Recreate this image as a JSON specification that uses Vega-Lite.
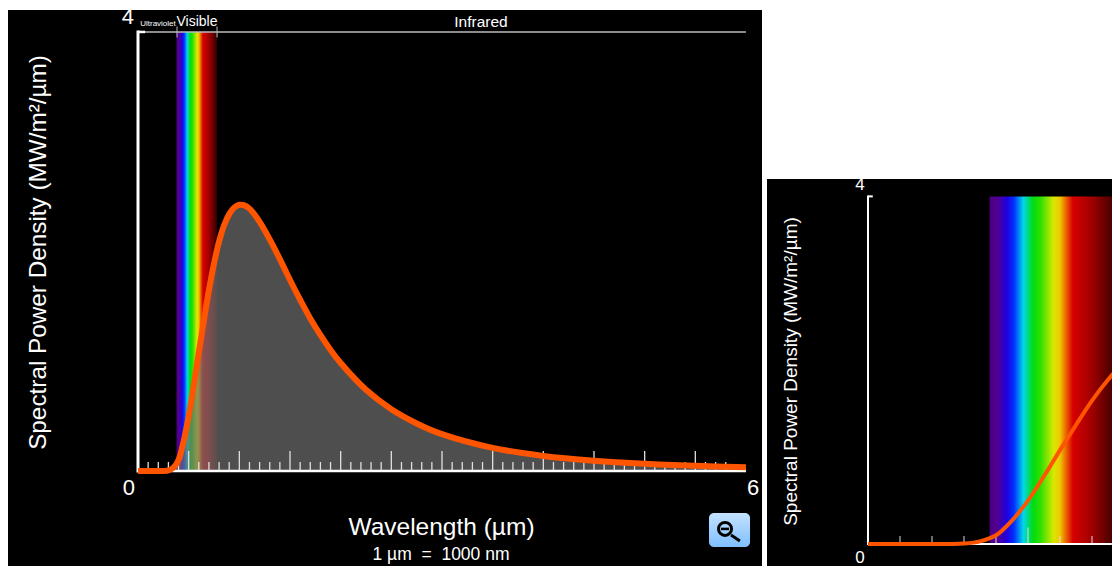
{
"$schema":"https://vega.github.io/schema/vega-lite/v6.json",
"background":"white",
"padding":{"left":8,"top":5,"right":0,"bottom":0},
"bounds":"flush",
"spacing":5,
"config":{"font":"Liberation Sans","view":{"stroke":null},"text":{"font":"Liberation Sans","color":"white"},"axis":{"titleFont":"Liberation Sans","titleColor":"white","titleFontWeight":"normal","grid":false}},
"datasets":{
"curve":[{"x":0,"y":0},{"x":0.25,"y":0},{"x":0.3,"y":0.005},{"x":0.35,"y":0.03},{"x":0.4,"y":0.1},{"x":0.45,"y":0.27},{"x":0.5,"y":0.5},{"x":0.55,"y":0.78},{"x":0.6,"y":1.08},{"x":0.65,"y":1.37},{"x":0.7,"y":1.65},{"x":0.75,"y":1.89},{"x":0.8,"y":2.09},{"x":0.85,"y":2.24},{"x":0.9,"y":2.34},{"x":0.95,"y":2.4},{"x":1.0,"y":2.425},{"x":1.05,"y":2.42},{"x":1.1,"y":2.39},{"x":1.2,"y":2.27},{"x":1.3,"y":2.11},{"x":1.4,"y":1.93},{"x":1.5,"y":1.74},{"x":1.6,"y":1.56},{"x":1.7,"y":1.39},{"x":1.8,"y":1.24},{"x":1.9,"y":1.103},{"x":2.0,"y":0.983},{"x":2.25,"y":0.739},{"x":2.5,"y":0.562},{"x":2.75,"y":0.433},{"x":3,"y":0.335},{"x":3.5,"y":0.21},{"x":4,"y":0.137},{"x":4.5,"y":0.093},{"x":5,"y":0.065},{"x":5.5,"y":0.047},{"x":6,"y":0.034}],
"spectrum":[{"x":0.38,"x2":0.78,"y":0,"y2":4}],
"minorL":[{"x":0.1,"y":0},{"x":0.2,"y":0},{"x":0.3,"y":0},{"x":0.4,"y":0},{"x":0.6,"y":0},{"x":0.7,"y":0},{"x":0.8,"y":0},{"x":0.9,"y":0},{"x":1.1,"y":0},{"x":1.2,"y":0},{"x":1.3,"y":0},{"x":1.4,"y":0},{"x":1.6,"y":0},{"x":1.7,"y":0},{"x":1.8,"y":0},{"x":1.9,"y":0},{"x":2.1,"y":0},{"x":2.2,"y":0},{"x":2.3,"y":0},{"x":2.4,"y":0},{"x":2.6,"y":0},{"x":2.7,"y":0},{"x":2.8,"y":0},{"x":2.9,"y":0},{"x":3.1,"y":0},{"x":3.2,"y":0},{"x":3.3,"y":0},{"x":3.4,"y":0},{"x":3.6,"y":0},{"x":3.7,"y":0},{"x":3.8,"y":0},{"x":3.9,"y":0},{"x":4.1,"y":0},{"x":4.2,"y":0},{"x":4.3,"y":0},{"x":4.4,"y":0},{"x":4.6,"y":0},{"x":4.7,"y":0},{"x":4.8,"y":0},{"x":4.9,"y":0},{"x":5.1,"y":0},{"x":5.2,"y":0},{"x":5.3,"y":0},{"x":5.4,"y":0},{"x":5.6,"y":0},{"x":5.7,"y":0},{"x":5.8,"y":0}],
"majorL":[{"x":0.5,"y":0},{"x":1,"y":0},{"x":1.5,"y":0},{"x":2,"y":0},{"x":2.5,"y":0},{"x":3,"y":0},{"x":3.5,"y":0},{"x":4,"y":0},{"x":4.5,"y":0},{"x":5,"y":0},{"x":5.5,"y":0}],
"minorR":[{"x":0.1,"y":0},{"x":0.2,"y":0},{"x":0.3,"y":0},{"x":0.4,"y":0},{"x":0.6,"y":0},{"x":0.7,"y":0}],
"majorR":[{"x":0.5,"y":0}]
},
"hconcat":[
{"width":754,"height":556,"view":{"fill":"black","stroke":null},
"encoding":{
"x":{"field":"x","type":"quantitative","scale":{"domain":[-1.283,6.158],"nice":false,"zero":false},"axis":{"values":[],"domain":false,"ticks":false,"labels":false,"title":"Wavelength (µm)","titleFontSize":24.5,"titleX":433,"titleY":-39,"titleBaseline":"middle","titleAlign":"center"}},
"y":{"field":"y","type":"quantitative","scale":{"domain":[-0.866,4.2],"nice":false,"zero":false},"axis":{"values":[],"domain":false,"ticks":false,"labels":false,"title":"Spectral Power Density (MW/m²/µm)","titleFontSize":24.3,"titleX":30,"titleY":242,"titleBaseline":"middle","titleAlign":"center"}}
},
"layer":[
{"data":{"name":"spectrum"},"mark":{"type":"rect","fill":{"gradient":"linear","x1":0,"x2":1,"y1":0,"y2":0,"stops":[{"offset":0,"color":"#4b0082"},{"offset":0.06,"color":"#520090"},{"offset":0.135,"color":"#2000e0"},{"offset":0.19,"color":"#0030ff"},{"offset":0.265,"color":"#00d8e8"},{"offset":0.34,"color":"#00dc10"},{"offset":0.4,"color":"#30e000"},{"offset":0.5,"color":"#d8e800"},{"offset":0.55,"color":"#f0c800"},{"offset":0.6,"color":"#e86000"},{"offset":0.65,"color":"#d80000"},{"offset":0.8,"color":"#a00000"},{"offset":1,"color":"#300000"}]}},"encoding":{"x2":{"field":"x2"},"y2":{"field":"y2"}}},
{"data":{"name":"curve"},"mark":{"type":"area","fill":"#6f6f6f","opacity":0.7,"interpolate":"catmull-rom"}},
{"data":{"name":"minorL"},"mark":{"type":"rule","color":"#e0e0e0","strokeWidth":1.3},"encoding":{"y2":{"datum":0.082}}},
{"data":{"name":"majorL"},"mark":{"type":"rule","color":"#e0e0e0","strokeWidth":1.3},"encoding":{"y2":{"datum":0.182}}},
{"data":{"values":[{"x":0,"x2":6,"y":4}]},"mark":{"type":"rule","color":"#bbbbbb","strokeWidth":1.5},"encoding":{"x2":{"field":"x2"}}},
{"data":{"values":[{"x":0.385,"y":3.95,"y2":4.05},{"x":0.78,"y":3.95,"y2":4.05}]},"mark":{"type":"rule","color":"#bbbbbb","strokeWidth":1},"encoding":{"y2":{"field":"y2"}}},
{"data":{"values":[{"x":0,"y":0,"y2":4}]},"mark":{"type":"rule","color":"white","strokeWidth":3,"strokeCap":"square"},"encoding":{"y2":{"field":"y2"}}},
{"data":{"values":[{"x":0,"x2":6,"y":0},{"x":0,"x2":0.07,"y":4}]},"mark":{"type":"rule","color":"white","strokeWidth":2.5},"encoding":{"x2":{"field":"x2"}}},
{"data":{"name":"curve"},"mark":{"type":"line","color":"#ff5500","strokeWidth":6,"interpolate":"catmull-rom"}},
{"data":{"values":[{"x":-0.099,"y":4.137,"label":"4"},{"x":-0.089,"y":-0.155,"label":"0"},{"x":6.07,"y":-0.155,"label":"6"}]},"mark":{"type":"text","fontSize":22,"align":"center","baseline":"middle"},"encoding":{"text":{"field":"label"}}},
{"data":{"values":[{"x":0.197,"y":4.073,"label":"Ultraviolet"}]},"mark":{"type":"text","fontSize":8,"align":"center","baseline":"middle"},"encoding":{"text":{"field":"label"}}},
{"data":{"values":[{"x":0.582,"y":4.09,"label":"Visible"}]},"mark":{"type":"text","fontSize":14,"align":"center","baseline":"middle"},"encoding":{"text":{"field":"label"}}},
{"data":{"values":[{"x":3.385,"y":4.09,"label":"Infrared"}]},"mark":{"type":"text","fontSize":15.5,"align":"center","baseline":"middle"},"encoding":{"text":{"field":"label"}}},
{"data":{"values":[{"x":2.99,"y":-0.765,"label":"1 µm\u00a0\u00a0=\u00a0\u00a01000 nm"}]},"mark":{"type":"text","fontSize":17.5,"align":"center","baseline":"middle"},"encoding":{"text":{"field":"label"}}},
{"data":{"values":[{"x":5.635,"x2":6.04,"y":-0.383,"y2":-0.692}]},"mark":{"type":"rect","cornerRadius":5,"fill":{"gradient":"linear","x1":0,"x2":0,"y1":0,"y2":1,"stops":[{"offset":0,"color":"#c4e2ff"},{"offset":1,"color":"#7fbfff"}]}},"encoding":{"x2":{"field":"x2"},"y2":{"field":"y2"}}},
{"data":{"values":[{"x":5.793,"y":-0.528}]},"mark":{"type":"point","shape":"circle","size":169,"filled":false,"color":"black","opacity":1,"strokeWidth":3}},
{"data":{"values":[{"x":5.852,"x2":5.94,"y":-0.583,"y2":-0.638}]},"mark":{"type":"rule","color":"black","strokeWidth":3},"encoding":{"x2":{"field":"x2"},"y2":{"field":"y2"}}},
{"data":{"values":[{"x":5.753,"x2":5.832,"y":-0.528}]},"mark":{"type":"rule","color":"black","strokeWidth":2.5},"encoding":{"x2":{"field":"x2"}}}
]},
{"spacing":0,"bounds":"flush","vconcat":[
{"width":345,"height":169,"data":{"values":[]},"mark":"point"},
{"width":345,"height":387,"view":{"fill":"black","stroke":null},
"encoding":{
"x":{"field":"x","type":"quantitative","scale":{"domain":[-0.3156,0.7625],"nice":false,"zero":false},"axis":null},
"y":{"field":"y","type":"quantitative","scale":{"domain":[-0.253,4.2],"nice":false,"zero":false},"axis":{"values":[],"domain":false,"ticks":false,"labels":false,"title":"Spectral Power Density (MW/m²/µm)","titleFontSize":19,"titleX":23,"titleY":192,"titleBaseline":"middle","titleAlign":"center"}}
},
"layer":[
{"data":{"name":"spectrum"},"mark":{"type":"rect","clip":true,"fill":{"gradient":"linear","x1":0,"x2":1,"y1":0,"y2":0,"stops":[{"offset":0,"color":"#4b0082"},{"offset":0.06,"color":"#520090"},{"offset":0.135,"color":"#2000e0"},{"offset":0.19,"color":"#0030ff"},{"offset":0.265,"color":"#00d8e8"},{"offset":0.34,"color":"#00dc10"},{"offset":0.4,"color":"#30e000"},{"offset":0.5,"color":"#d8e800"},{"offset":0.55,"color":"#f0c800"},{"offset":0.6,"color":"#e86000"},{"offset":0.65,"color":"#d80000"},{"offset":0.8,"color":"#a00000"},{"offset":1,"color":"#300000"}]}},"encoding":{"x2":{"field":"x2"},"y2":{"field":"y2"}}},
{"data":{"name":"minorR"},"mark":{"type":"rule","color":"#dddddd","strokeWidth":1},"encoding":{"y2":{"datum":0.092}}},
{"data":{"name":"majorR"},"mark":{"type":"rule","color":"#dddddd","strokeWidth":1},"encoding":{"y2":{"datum":0.19}}},
{"data":{"values":[{"x":0,"y":0,"y2":4}]},"mark":{"type":"rule","color":"white","strokeWidth":2,"strokeCap":"square"},"encoding":{"y2":{"field":"y2"}}},
{"data":{"values":[{"x":0,"x2":0.762,"y":0},{"x":0,"x2":0.015,"y":4}]},"mark":{"type":"rule","color":"white","strokeWidth":2},"encoding":{"x2":{"field":"x2"}}},
{"data":{"name":"curve"},"mark":{"type":"line","color":"#ff5500","strokeWidth":4,"interpolate":"catmull-rom","clip":true}},
{"data":{"values":[{"x":-0.025,"y":4.126,"label":"4"},{"x":-0.025,"y":-0.16,"label":"0"}]},"mark":{"type":"text","fontSize":17,"align":"center","baseline":"middle"},"encoding":{"text":{"field":"label"}}}
]}
]}
]
}
